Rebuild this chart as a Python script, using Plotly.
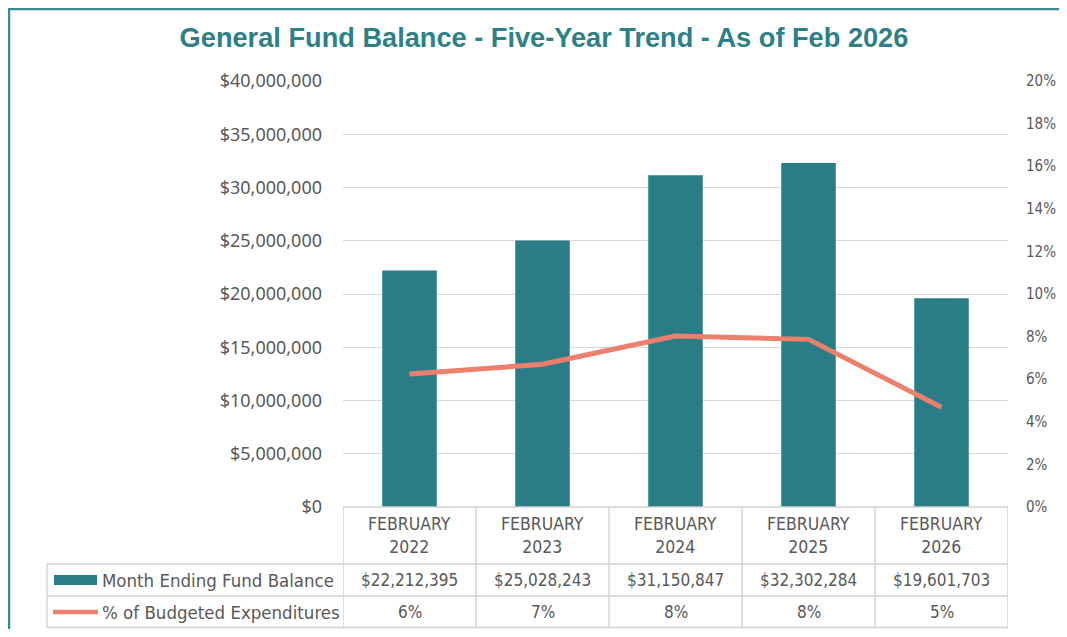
import plotly.graph_objects as go

# ---------------- data ----------------
categories = ["2022", "2023", "2024", "2025", "2026"]
month_labels = ["FEBRUARY", "FEBRUARY", "FEBRUARY", "FEBRUARY", "FEBRUARY"]
fund_balance = [22212395, 25028243, 31150847, 32302284, 19601703]
pct_budgeted = [0.0624, 0.0670, 0.0803, 0.0787, 0.0468]
series_names = ["Month Ending Fund Balance", "% of Budgeted Expenditures"]
title_text = "General Fund Balance - Five-Year Trend - As of Feb 2026"

# ---------------- style ----------------
OFF = 8                      # browser body margin
W, H = 1067 - 2 * OFF, 637 - 2 * OFF
L, R, T, B = 343, 1008, 81, 507   # plot area in screenshot pixels
BAR = "#2A7D86"
LINE = "#EC806C"
TEAL = "#2E8087"
GRAY_TXT = "#595959"
GRID = "#D9D9D9"
NARROW = "DejaVu Sans Condensed, Liberation Sans Narrow, sans-serif"


def pxx(x):
    return (x - L) / (R - L)


def pxy(y):
    return (B - y) / (B - T)


fig = go.Figure()
fig.add_trace(go.Bar(x=categories, y=fund_balance, name=series_names[0],
                     marker=dict(color=BAR, line=dict(width=0)), width=0.41,
                     yaxis="y"))
fig.add_trace(go.Scatter(x=categories, y=pct_budgeted, name=series_names[1],
                         mode="lines", line=dict(color=LINE, width=5),
                         yaxis="y2"))

shapes = []
annotations = []

# outer chart frame (white area with teal top/left border)
shapes.append(dict(type="rect", xref="paper", yref="paper", layer="below",
                   x0=pxx(8), x1=pxx(1070), y0=pxy(8), y1=pxy(640),
                   fillcolor="white", line=dict(width=0)))
shapes.append(dict(type="line", xref="paper", yref="paper",
                   x0=pxx(8), x1=pxx(1070), y0=pxy(9), y1=pxy(9),
                   line=dict(color="#3B8A90", width=2.5)))
shapes.append(dict(type="line", xref="paper", yref="paper",
                   x0=pxx(9), x1=pxx(9), y0=pxy(8), y1=pxy(640),
                   line=dict(color="#3B8A90", width=2.5)))

# data table lines
row_top, row_mid, row_bot = 564, 596, 627.5
tbl = dict(color="#D0D0D0", width=1.3)
n = len(categories)
for i in range(n + 1):
    shapes.append(dict(type="line", xref="x", yref="paper",
                       x0=i - 0.5, x1=i - 0.5, y0=pxy(B), y1=pxy(row_bot), line=tbl))
shapes.append(dict(type="line", xref="paper", yref="paper",
                   x0=pxx(47), x1=pxx(47), y0=pxy(row_top), y1=pxy(row_bot), line=tbl))
shapes.append(dict(type="line", xref="x", yref="paper",
                   x0=-0.5, x1=n - 0.5, y0=pxy(B), y1=pxy(B), line=tbl))
for yy in (row_top, row_mid, row_bot):
    shapes.append(dict(type="line", xref="paper", yref="paper",
                       x0=pxx(47), x1=1, y0=pxy(yy), y1=pxy(yy), line=tbl))

# legend keys inside table
shapes.append(dict(type="rect", xref="paper", yref="paper",
                   x0=pxx(54), x1=pxx(97), y0=pxy(575), y1=pxy(585),
                   fillcolor=BAR, line=dict(width=0)))
shapes.append(dict(type="line", xref="paper", yref="paper",
                   x0=pxx(53), x1=pxx(98), y0=pxy(612), y1=pxy(612),
                   line=dict(color=LINE, width=4.5)))

# header cells
for i, (c, m) in enumerate(zip(categories, month_labels)):
    annotations.append(dict(x=i, xref="x", y=pxy(535.5), yref="paper",
                            text=f"{m}<br>{c}", showarrow=False,
                            font=dict(family=NARROW, size=17.5, color=GRAY_TXT),
                            xanchor="center", yanchor="middle", align="center"))
# row labels
for name, yy in zip(series_names, (580, 612)):
    annotations.append(dict(x=pxx(100), xref="paper", y=pxy(yy), yref="paper",
                            text=name, showarrow=False, xanchor="left", yanchor="middle",
                            font=dict(family=NARROW, size=18.5, color=GRAY_TXT)))
# values
for i, (v, p) in enumerate(zip(fund_balance, pct_budgeted)):
    annotations.append(dict(x=i, xref="x", y=pxy(580), yref="paper",
                            text=f"${v:,.0f}", showarrow=False,
                            xanchor="center", yanchor="middle",
                            font=dict(family=NARROW, size=17, color=GRAY_TXT)))
    annotations.append(dict(x=i, xref="x", y=pxy(612), yref="paper",
                            text=f"{p:.0%}", showarrow=False,
                            xanchor="center", yanchor="middle",
                            font=dict(family=NARROW, size=17, color=GRAY_TXT)))

fig.update_layout(
    width=W, height=H,
    margin=dict(l=L - OFF, r=W - (R - OFF), t=T - OFF, b=H - (B - OFF), pad=0,
                autoexpand=False),
    paper_bgcolor="white", plot_bgcolor="white",
    showlegend=False,
    bargap=0.59,
    title=dict(text=f"<b>{title_text}</b>", x=(544 - OFF) / W, xanchor="center",
               y=1 - (37 - OFF) / H, yanchor="middle",
               font=dict(family="Liberation Sans, Arial, sans-serif", size=27.2, color=TEAL)),
    xaxis=dict(type="category", range=[-0.5, n - 0.5], showticklabels=False,
               showgrid=False, zeroline=False, showline=False, ticks="", automargin=False),
    yaxis=dict(range=[0, 40000000], dtick=5000000, tickprefix="$", tickformat=",.0f",
               showgrid=True, gridcolor=GRID, gridwidth=1.3, zeroline=False,
               showline=False, ticks="", ticklabelstandoff=20, automargin=False,
               tickfont=dict(family="Noto Sans, Open Sans, sans-serif", size=18, color=GRAY_TXT)),
    yaxis2=dict(range=[0, 0.2], dtick=0.02, tickformat=".0%", overlaying="y", side="right",
                showgrid=False, zeroline=False, showline=False, ticks="",
                ticklabelstandoff=17, automargin=False,
                tickfont=dict(family=NARROW, size=15, color=GRAY_TXT)),
    shapes=shapes, annotations=annotations,
)

fig.write_html("out.html")
